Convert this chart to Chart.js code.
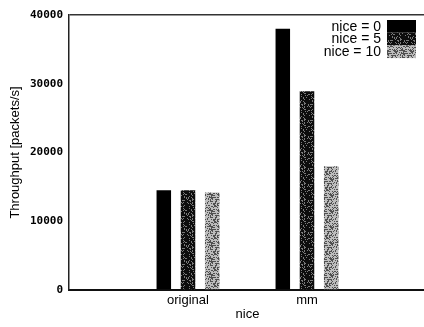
<!DOCTYPE html>
<html>
<head>
<meta charset="utf-8">
<script src="https://cdn.jsdelivr.net/npm/chart.js@4/dist/chart.umd.min.js"></script>
<style>
  html, body { margin: 0; padding: 0; background: #fff; overflow: hidden; }
  #wrap { width: 430px; height: 327px; }
</style>
</head>
<body>
<div id="wrap"><canvas id="niceChart"></canvas></div>
<script>
// data
const categories = ['original', 'mm'];
const seriesNames = ['nice = 0', 'nice = 5', 'nice = 10'];
const nice0 = [14500, 38000];
const nice5 = [14500, 28900];
const nice10 = [14200, 18000];
const yTicks = [0, 10000, 20000, 30000, 40000];

// stipple fills, like the scanned gnuplot patterns (fixed hash, not random)
function stipple(base, dot, every) {
    const n = 16;
    const c = document.createElement('canvas');
    c.width = n; c.height = n;
    const g = c.getContext('2d');
    g.fillStyle = base;
    g.fillRect(0, 0, n, n);
    g.fillStyle = dot;
    for (let x = 0; x < n; x++) {
        for (let y = 0; y < n; y++) {
            const h = (((x + 1) * 73856093) ^ ((y + 1) * 19349663)) >>> 0;
            if (h % every === 0) g.fillRect(x, y, 1, 1);
        }
    }
    return g.createPattern(c, 'repeat');
}
const fills = ['#000000', stipple('#0d0d0d', '#7a7a7a', 5), stipple('#bdbdbd', '#505050', 3)];

// pad the axis so the groups sit at 1 and 2 of a 0..3 range
const labels = [''].concat(categories, ['']);
const pad = arr => [null].concat(arr, [null]);

const legendRight = {
    id: 'legendRight',
    afterDraw(chart) {
        const ctx = chart.ctx;
        ctx.save();
        ctx.font = '14px "Liberation Sans", Arial, sans-serif';
        ctx.textAlign = 'right';
        ctx.textBaseline = 'middle';
        const top = 20, h = 12.7;
        chart.data.datasets.forEach((ds, i) => {
            ctx.fillStyle = ds.backgroundColor;
            ctx.fillRect(387, top + i * h, 29, h);
            ctx.fillStyle = '#000';
            ctx.fillText(ds.label, 381, top + i * h + h / 2 + 0.5);
        });
        ctx.restore();
    }
};

const niceCtx = document.getElementById('niceChart').getContext('2d');
const niceChart = new Chart(niceCtx, {
    type: 'bar',
    data: {
        labels: labels,
        datasets: [
            { label: seriesNames[0], data: pad(nice0), backgroundColor: fills[0] },
            { label: seriesNames[1], data: pad(nice5), backgroundColor: fills[1] },
            { label: seriesNames[2], data: pad(nice10), backgroundColor: fills[2] }
        ]
    },
    options: {
        responsive: true,
        maintainAspectRatio: false,
        animation: false,
        layout: { padding: { top: 15, right: 0, bottom: 6, left: 0 } },
        categoryPercentage: 0.61,
        barPercentage: 0.6,
        plugins: {
            legend: { display: false },
            tooltip: { enabled: false }
        },
        scales: {
            x: {
                offset: false,
                grid: { display: false, drawTicks: false, tickLength: 0 },
                border: { display: true, color: '#111', width: 2 },
                ticks: {
                    color: '#000',
                    padding: 4,
                    autoSkip: false,
                    maxRotation: 0,
                    font: { family: '"Liberation Sans", Arial, sans-serif', size: 13, lineHeight: 1 }
                },
                title: {
                    display: true,
                    text: 'nice',
                    color: '#000',
                    padding: { top: -3, bottom: 0 },
                    font: { family: '"Liberation Sans", Arial, sans-serif', size: 13, lineHeight: 1 }
                }
            },
            y: {
                min: 0,
                max: 40000,
                afterFit(scale) { scale.width = 69; },
                afterBuildTicks(scale) { scale.ticks = yTicks.map(v => ({ value: v })); },
                grid: {
                    drawTicks: false,
                    color: c => c.tick && c.tick.value === 40000 ? '#333' : 'rgba(0,0,0,0)',
                    lineWidth: 1.5
                },
                border: { display: true, color: '#222', width: 1.5 },
                ticks: {
                    color: '#000',
                    padding: 6,
                    font: { family: '"DejaVu Sans Mono", monospace', size: 11, weight: 'bold' },
                    callback: v => String(v)
                },
                title: {
                    display: true,
                    text: 'Throughput [packets/s]',
                    color: '#000',
                    padding: { top: 8, bottom: 0 },
                    font: { family: '"Liberation Sans", Arial, sans-serif', size: 13 }
                }
            }
        }
    },
    plugins: [legendRight]
});
</script>
</body>
</html>
